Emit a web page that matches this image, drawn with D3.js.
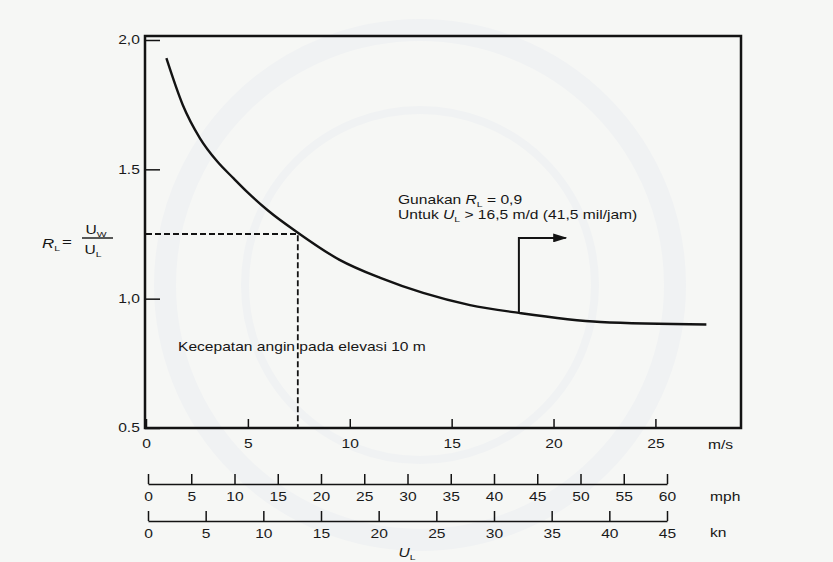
<!DOCTYPE html>
<html>
<head>
<meta charset="utf-8">
<script src="https://cdn.jsdelivr.net/npm/d3@7"></script>
<style>
  body { margin: 0; background: #f6f7f5; }
  svg { display: block; font-family: "Liberation Sans", Arial, sans-serif; }
</style>
</head>
<body>
<svg id="chart" width="833" height="562"></svg>
<script>
// values
const windSpeed = [1.0, 1.8, 2.65, 3.5, 4.3, 5.0, 6.0, 7.4, 9.5, 11.5, 13.6, 15.9, 18.3, 22.3, 27.5];
const ratioRL   = [1.93, 1.75, 1.62, 1.53, 1.465, 1.41, 1.34, 1.258, 1.15, 1.08, 1.022, 0.975, 0.945, 0.91, 0.90];

const yTicks = [0.5, 1.0, 1.5, 2.0];
const yTickLabels = ['0.5', '1,0', '1.5', '2,0'];
const msTicks = [0, 5, 10, 15, 20, 25];
const mphTicks = [0, 5, 10, 15, 20, 25, 30, 35, 40, 45, 50, 55, 60];
const knTicks = [0, 5, 10, 15, 20, 25, 30, 35, 40, 45];

// example reading (dashed) and the "use 0.9" arrow
const guideU = 7.45, guideR = 1.25;
const arrowU = [18.3, 18.3, 20.6];
const arrowR = [0.945, 1.235, 1.235];

const plot = {left: 145, right: 741, top: 36, bottom: 428};
const sx = 1.3; // the scan is stretched sideways, so is the lettering
const ink = '#131313';

const svg = d3.select('#chart');

// very faint repository watermark behind the figure
const wm = svg.append('g').attr('fill', 'none').attr('stroke', '#f0f2f3');
wm.append('circle').attr('cx', 420).attr('cy', 285).attr('r', 255).attr('stroke-width', 22);
wm.append('circle').attr('cx', 420).attr('cy', 285).attr('r', 175).attr('stroke-width', 8);

const x = d3.scaleLinear().domain([0, 29.2]).range([146, 741]);
const y = d3.scaleLinear().domain([0.5, 2.0]).range([428, 40]);
const mph = d3.scaleLinear().domain([0, 60]).range([148, 667]);
const kn = d3.scaleLinear().domain([0, 45]).range([148, 667]);

svg.append('defs').append('marker')
    .attr('id', 'head')
    .attr('viewBox', '0 0 10 10')
    .attr('refX', 9).attr('refY', 5)
    .attr('markerWidth', 14).attr('markerHeight', 9)
    .attr('markerUnits', 'userSpaceOnUse')
    .attr('preserveAspectRatio', 'none')
    .attr('orient', 'auto')
  .append('path')
    .attr('d', 'M0,0L10,5L0,10z')
    .attr('fill', ink);

function styleAxis(g){
    g.attr('font-size', 12).attr('font-family', null).attr('color', ink);
    g.selectAll('text').attr('transform', `scale(${sx},1)`).attr('fill', '#1a1a1a');
    g.selectAll('line').attr('stroke-width', 1.5);
}

// main axes (ticks point inward)
svg.append('g')
    .attr('transform', `translate(0,${plot.bottom})`)
    .call(d3.axisBottom(x).tickValues(msTicks).tickSize(-9).tickPadding(11).tickFormat(d3.format('d')))
    .call(g => g.select('.domain').remove())
    .call(styleAxis);

svg.append('g')
    .attr('transform', `translate(${plot.left},0)`)
    .call(d3.axisLeft(y).tickValues(yTicks).tickSize(-15).tickPadding(4)
        .tickFormat((d, i) => yTickLabels[i]))
    .call(g => g.select('.domain').remove())
    .call(styleAxis);

// frame
svg.append('rect')
    .attr('x', plot.left).attr('y', plot.top)
    .attr('width', plot.right - plot.left).attr('height', plot.bottom - plot.top)
    .attr('fill', 'none').attr('stroke', ink).attr('stroke-width', 2.5);

// extra speed scales underneath
svg.append('g')
    .attr('transform', 'translate(0,484)')
    .call(d3.axisBottom(mph).tickValues(mphTicks).tickSize(-10).tickSizeOuter(0).tickPadding(8))
    .call(styleAxis)
    .call(g => g.select('.domain').attr('stroke-width', 1.6));

svg.append('g')
    .attr('transform', 'translate(0,521)')
    .call(d3.axisBottom(kn).tickValues(knTicks).tickSize(-10).tickSizeOuter(0).tickPadding(8))
    .call(styleAxis)
    .call(g => g.select('.domain').attr('stroke-width', 1.6));

// dashed reading at 10 m
svg.append('path')
    .attr('d', d3.line()([[x(0), y(guideR)], [x(guideU), y(guideR)], [x(guideU), y(0.5)]]))
    .attr('fill', 'none').attr('stroke', ink).attr('stroke-width', 1.8)
    .attr('stroke-dasharray', '6,3');

// R_L curve
const pts = windSpeed.map((u, i) => [x(u), y(ratioRL[i])]);
svg.append('path')
    .attr('d', d3.line().curve(d3.curveMonotoneX)(pts))
    .attr('fill', 'none').attr('stroke', ink).attr('stroke-width', 2.4);

// arrow
svg.append('path')
    .attr('d', d3.line()(arrowU.map((u, i) => [x(u), y(arrowR[i])])))
    .attr('fill', 'none').attr('stroke', ink).attr('stroke-width', 2)
    .attr('marker-end', 'url(#head)');

// text helpers
function note(x0, y0, anchor){
    return svg.append('text')
        .attr('transform', `translate(${x0},${y0}) scale(${sx},1)`)
        .attr('text-anchor', anchor || 'start')
        .attr('font-size', 12)
        .attr('fill', '#161616');
}
function sub(t, main, s, rest, italic){
    t.append('tspan').attr('font-style', italic ? 'italic' : null).text(main);
    t.append('tspan').attr('font-size', 8).attr('dy', 3).text(s);
    if (rest) t.append('tspan').attr('dy', -3).text(rest);
    return t;
}

note(708, 449).text('m/s');
note(710, 501).text('mph');
note(710, 537).text('kn');
sub(note(407, 557, 'middle'), 'U', 'L', null, true);

note(178, 351).text('Kecepatan angin pada elevasi 10 m');

const g1 = note(398, 204);
g1.append('tspan').text('Gunakan ');
sub(g1, 'R', 'L', ' = 0,9', true);
const g2 = note(398, 219);
g2.append('tspan').text('Untuk ');
sub(g2, 'U', 'L', ' > 16,5 m/d (41,5 mil/jam)', true);

// y label R_L = U_W / U_L
sub(note(42, 248).attr('font-size', 13), 'R', 'L', null, true);
note(62, 246).attr('font-size', 13).text('=');
sub(note(96, 234, 'middle'), 'U', 'W', null, false);
svg.append('line').attr('x1', 82).attr('x2', 113).attr('y1', 238).attr('y2', 238)
    .attr('stroke', ink).attr('stroke-width', 1.4);
sub(note(93, 254, 'middle'), 'U', 'L', null, false);
</script>
</body>
</html>
